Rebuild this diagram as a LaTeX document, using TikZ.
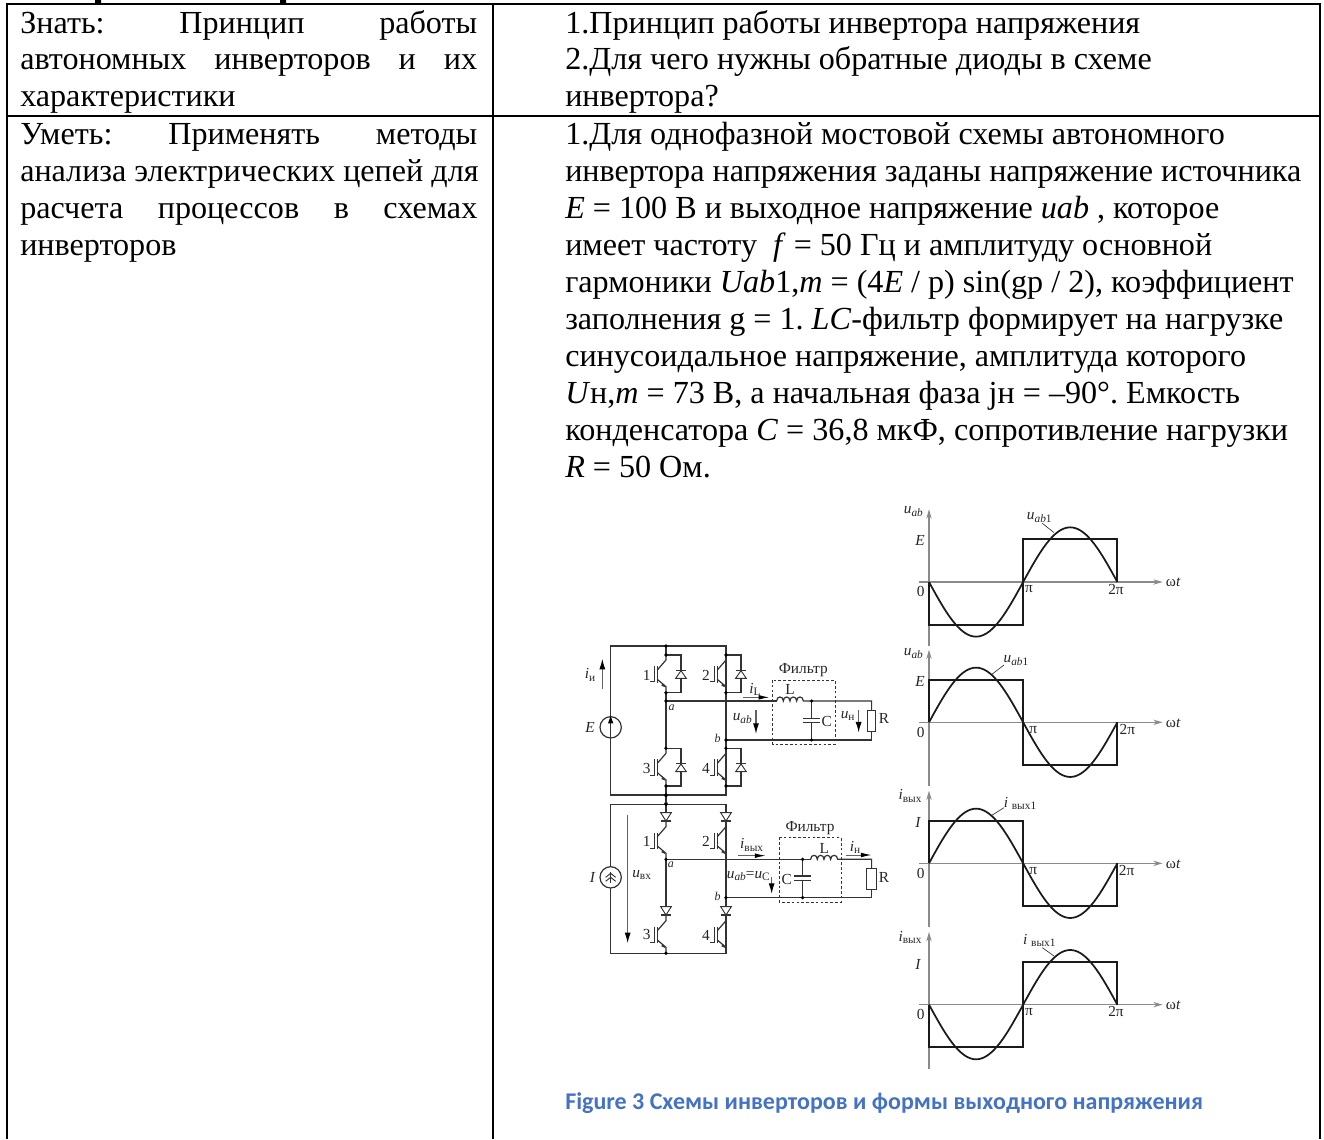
\documentclass[tikz,border=0pt]{standalone}
\usepackage{fontspec}
\setmainfont{Liberation Serif}
\newfontfamily\capfont{Carlito}
\usetikzlibrary{arrows.meta}
\frenchspacing
\definecolor{capblue}{HTML}{4472C4}
\definecolor{wire}{HTML}{333333}
\definecolor{axisgray}{HTML}{8A8A8A}
\definecolor{wave}{HTML}{1A1A1A}
\newcount\lbcnt
\newcommand{\nextlb}{\global\advance\lbcnt by 1 }
% main table text
\newcommand{\txt}[3]{\nextlb\node[maintext] (t\the\lbcnt) at (#1,#2) {#3};}
\newcommand{\jtxt}[2]{\nextlb\node[maintext] (t\the\lbcnt) at (20,#1) {\makebox[342.75pt][s]{#2}};}
% diagram label
\newcommand{\lab}[3]{\nextlb\node[dlabel] (t\the\lbcnt) at (#1,#2) {#3};}
\newcommand{\smalllab}[3]{\nextlb\node[dsmall] (t\the\lbcnt) at (#1,#2) {#3};}
\newcommand{\ssub}[1]{\raisebox{-0.35ex}{\fontsize{8.5}{9}\selectfont #1}}
\newcommand{\wavep}[2]{%
  \draw[axis] (118,#1) -- (848,#1);
  \draw[axis] (147,#1+192) -- (147,#1-218);
  \draw[curve] (147,#1) -- (147,#1-#2*128) -- (430,#1-#2*128) -- (430,#1+#2*128) -- (712,#1+#2*128) -- (712,#1);
  \draw[curve] plot[domain=0:360,samples=73,smooth] ({147+565*(\x/360)},{#1-#2*164*sin(\x)});
}
\newcommand{\igbt}[2]{\begin{scope}[shift={(#1,#2)}]
    \draw[w] (0,0) -- (0,15) -- (-26,45);
    \draw[w] (-26,73) -- (0,95) -- (0,113);
    \draw[w,line width=0.7pt] (-26,33) -- (-26,83) (-36,33) -- (-36,80) -- (-48,80);
    \fill[wire] (-2,97) -- (-10,85) -- (-14,92) -- cycle;
\end{scope}}
\newcommand{\igbtd}[2]{\begin{scope}[shift={(#1,#2)}]
    \draw[w] (0,0) -- (45,0) -- (45,113) -- (0,113);
    \draw[w,line width=0.7pt,fill=white] (29,70) -- (61,70) -- (45,47) -- cycle;
    \draw[w] (29,46) -- (61,46);
\end{scope}\igbt{#1}{#2}}
\newcommand{\sdiode}[2]{\begin{scope}[shift={(#1,#2)}]
    \draw[w,line width=0.7pt,fill=white] (-16,-12) -- (16,-12) -- (0,13) -- cycle;
    \draw[w] (-16,13) -- (16,13);
\end{scope}}
\tikzset{
  x=0.75pt,y=-0.75pt,
  maintext/.style={anchor=base west,inner sep=0pt,font=\fontsize{24.1}{24}\selectfont},
  dlabel/.style={inner sep=0pt,font=\fontsize{11.5}{12}\selectfont,text=black!85},
  dsmall/.style={inner sep=0pt,font=\fontsize{9}{10}\selectfont,text=black!85},
  tableline/.style={line width=1.5pt,black},
  w/.style={line width=0.9pt,wire},
  dotc/.style={fill=black},
  dashbox/.style={line width=0.7pt,dash pattern=on 2pt off 1.6pt,wire},
  arr/.style={line width=0.9pt,axisgray!70!black,-{Latex[length=8pt,width=4.5pt,black]}},
  thinarr/.style={line width=0.7pt,axisgray!70!black,-{Latex[length=8pt,width=3.5pt,black]}},
  axis/.style={line width=0.9pt,axisgray,-{Stealth[length=7pt,width=4pt]}},
  curve/.style={line width=1.3pt,wave},
  lead/.style={line width=0.5pt,wire},
}
\begin{document}
\begin{tikzpicture}
\useasboundingbox (0,0) rectangle (1324,1139);
% clipped line above the table
\fill[black] (95,0) rectangle (101,3) (280,0) rectangle (286,3);
% table
\draw[tableline] (6.5,1139) -- (6.5,4) -- (1320,4) -- (1320,1139);
\draw[tableline] (6.5,116) -- (1320,116);
\draw[tableline] (493,4) -- (493,1139);
% left column
\jtxt{33}{Знать:\hfill Принцип\hfill работы}
\jtxt{69.5}{автономных\hfill инверторов\hfill и\hfill их}
\txt{20}{106}{характеристики}
\jtxt{144}{Уметь:\hfill Применять\hfill методы}
\txt{20}{181}{анализа электрических цепей для}
\jtxt{218}{расчета\hfill процессов\hfill в\hfill схемах}
\txt{20}{255}{инверторов}
% right column
\txt{565}{33}{1.Принцип работы инвертора напряжения}
\txt{565}{69.5}{2.Для чего нужны обратные диоды в схеме}
\txt{565}{106}{инвертора?}
\txt{565}{144}{1.Для однофазной мостовой схемы автономного}
\txt{565}{181}{инвертора напряжения заданы напряжение источника}
\txt{565}{218}{\textit{E} = 100 В и выходное напряжение \textit{uab} , которое}
\txt{565}{255}{имеет частоту \ \textit{f} = 50 Гц и амплитуду основной}
\txt{565}{292}{гармоники \textit{Uab}1,\textit{m} = (4\textit{E} / р) sin(gp / 2), коэффициент}
\txt{565}{329}{заполнения g = 1. \textit{LC}-фильтр формирует на нагрузке}
\txt{565}{366}{синусоидальное напряжение, амплитуда которого}
\txt{565}{403}{\textit{U}н,\textit{m} = 73 В, а начальная фаза jн = –90°. Емкость}
\txt{565}{440}{конденсатора \textit{C} = 36,8 мкФ, сопротивление нагрузки}
\txt{565}{477}{\textit{R} = 50 Ом.}
% caption
\nextlb\node[anchor=base west,inner sep=0pt,text=capblue,font=\capfont\bfseries\fontsize{18}{18}\selectfont] (t\the\lbcnt) at (565,1109) {Figure 3 Схемы инверторов и формы выходного напряжения};

% === circuit 1 ===
\begin{scope}[shift={(570,630)},scale=0.3333]
  \draw[w] (288,48) -- (122,48) -- (122,495) -- (468,495) -- (468,48) -- cycle;
  \draw[w] (288,48) -- (288,75) (288,188) -- (288,355) (288,468) -- (288,520);
  \draw[w] (468,188) -- (468,355);
  \igbtd{288}{75} \igbtd{468}{75} \igbtd{288}{355} \igbtd{468}{355}
  \draw[w] (288,213) -- (620,213);
  \draw[w] (620,213) .. controls (620,197) and (640,197) .. (640,213) .. controls (640,197) and (660,197) .. (660,213) .. controls (660,197) and (680,197) .. (680,213) .. controls (680,197) and (700,197) .. (700,213) -- (905,213) -- (905,240);
  \draw[w,line width=0.7pt,fill=white] (892,240) rectangle (917,305);
  \draw[w] (905,305) -- (905,330) -- (468,330);
  \draw[w] (725,213) -- (725,265) (725,278) -- (725,330);
  \draw[w] (700,265) -- (750,265) (700,278) -- (750,278);
  \foreach \p in {(288,48),(288,75),(288,188),(288,213),(468,75),(468,188),(468,330),(468,355),(288,355),(288,468),(288,495),(288,520),(468,468),(725,213),(725,330)}
    \fill[dotc] \p circle (5.5);
  \draw[dashbox] (608,150) rectangle (795,343);
  \draw[w,fill=white] (122,292) circle (32);
  \draw[w] (122,324) -- (122,270);
  \fill[black] (122,258) -- (114,280) -- (130,280) -- cycle;
  \draw[arr] (97,177) -- (97,86);
  \draw[thinarr] (520,202) -- (598,202);
  \draw[arr] (558,240) -- (558,312);
  \draw[arr] (866,240) -- (866,308);
  \lab{60}{135}{\textit{i}\ssub{и}}
  \lab{60}{292}{\textit{E}}
  \lab{230}{135}{1} \lab{408}{135}{2} \lab{230}{415}{3} \lab{408}{415}{4}
  \smalllab{305}{232}{\textit{a}} \smalllab{443}{325}{\textit{b}}
  \lab{555}{178}{\textit{i}\ssub{L}}
  \lab{517}{265}{\textit{u}\ssub{\textit{ab}}}
  \lab{700}{120}{Фильтр}
  \lab{660}{178}{L} \lab{770}{275}{C}
  \lab{833}{258}{\textit{u}\ssub{н}} \lab{942}{265}{R}
\end{scope}

% === circuit 2 ===
\begin{scope}[shift={(570,790)},scale=0.3333]
  \draw[w] (288,43) -- (122,43) -- (122,490) -- (468,490) -- (468,43) -- cycle;
  \draw[w] (288,17) -- (288,68) (468,43) -- (468,68);
  \draw[w] (288,93) -- (288,95) (468,93) -- (468,95);
  \draw[w] (288,208) -- (288,350) (468,208) -- (468,350);
  \draw[w] (288,375) -- (288,377) (468,375) -- (468,377);
  \sdiode{288}{80} \sdiode{468}{80} \sdiode{288}{362} \sdiode{468}{362}
  \igbt{288}{95} \igbt{468}{95} \igbt{288}{377} \igbt{468}{377}
  \draw[w] (288,208) -- (722,208);
  \draw[w] (722,208) .. controls (722,192) and (742,192) .. (742,208) .. controls (742,192) and (762,192) .. (762,208) .. controls (762,192) and (782,192) .. (782,208) .. controls (782,192) and (803,192) .. (803,208) -- (905,208) -- (905,235);
  \draw[w,line width=0.7pt,fill=white] (890,235) rectangle (918,298);
  \draw[w] (905,298) -- (905,323) -- (468,323);
  \draw[w] (698,208) -- (698,258) (698,272) -- (698,323);
  \draw[w] (673,258) -- (723,258) (673,272) -- (723,272);
  \foreach \p in {(288,17),(288,43),(288,208),(288,490),(468,323),(698,208),(698,323)}
    \fill[dotc] \p circle (5.5);
  \draw[dashbox] (628,143) rectangle (813,336);
  \draw[w,fill=white] (122,262) circle (32);
  \draw[w] (122,246) -- (122,278);
  \draw[w,line width=0.7pt] (107,262) -- (122,250) -- (137,262) (107,274) -- (122,262) -- (137,274);
  \draw[arr] (173,75) -- (173,460);
  \draw[thinarr] (505,197) -- (587,197);
  \draw[thinarr] (828,195) -- (905,195);
  \draw[arr] (605,262) -- (605,312);
  \lab{68}{262}{\textit{I}}
  \lab{215}{255}{\textit{u}\ssub{вх}}
  \lab{230}{153}{1} \lab{408}{153}{2} \lab{230}{435}{3} \lab{408}{435}{4}
  \smalllab{303}{225}{\textit{a}} \smalllab{443}{320}{\textit{b}}
  \lab{545}{165}{\textit{i}\ssub{вых}}
  \lab{535}{258}{\textit{u}\ssub{\textit{ab}}=\textit{u}\ssub{C}}
  \lab{720}{115}{Фильтр}
  \lab{763}{175}{L} \lab{650}{268}{C}
  \lab{855}{172}{\textit{i}\ssub{н}} \lab{942}{262}{R}
\end{scope}

% === waveforms 1,2 ===
\begin{scope}[shift={(880,470)},scale=0.3333]
  \wavep{336}{-1}
  \wavep{757}{1}
  \draw[lead] (487,160) -- (522,188);
  \draw[lead] (372,585) -- (337,612);
  \lab{100}{125}{\textit{u}\ssub{\textit{ab}}} \lab{120}{212}{\textit{E}} \lab{122}{365}{0}
  \lab{447}{358}{π} \lab{708}{358}{2π} \lab{880}{338}{ω\textit{t}}
  \lab{478}{142}{\textit{u}\ssub{\textit{ab}1}}
  \lab{100}{550}{\textit{u}\ssub{\textit{ab}}} \lab{120}{635}{\textit{E}} \lab{122}{787}{0}
  \lab{460}{780}{π} \lab{742}{780}{2π} \lab{880}{759}{ω\textit{t}}
  \lab{408}{572}{\textit{u}\ssub{\textit{ab}1}}
\end{scope}
% === waveforms 3,4 ===
\begin{scope}[shift={(880,780)},scale=0.3333]
  \wavep{250}{1}
  \wavep{674}{-1}
  \draw[lead] (372,83) -- (337,105);
  \draw[lead] (487,503) -- (522,528);
  \lab{90}{48}{\textit{i}\ssub{вых}} \lab{115}{128}{\textit{I}} \lab{122}{280}{0}
  \lab{460}{272}{π} \lab{740}{272}{2π} \lab{880}{252}{ω\textit{t}}
  \lab{420}{70}{\textit{i} \ssub{вых1}}
  \lab{90}{472}{\textit{i}\ssub{вых}} \lab{115}{552}{\textit{I}} \lab{122}{703}{0}
  \lab{447}{695}{π} \lab{708}{695}{2π} \lab{880}{676}{ω\textit{t}}
  \lab{478}{482}{\textit{i} \ssub{вых1}}
\end{scope}
\end{tikzpicture}
\end{document}
